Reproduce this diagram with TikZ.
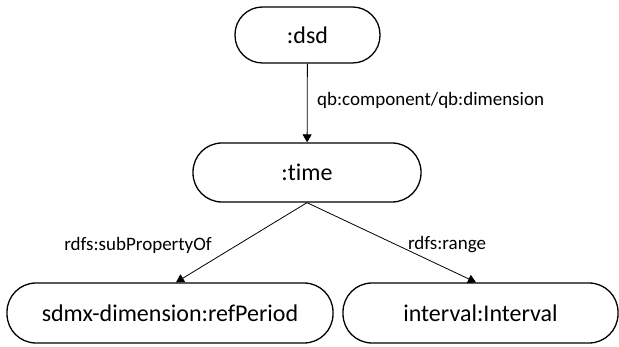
\documentclass[tikz,border=0pt]{standalone}
\usepackage{fontspec}
\setmainfont[Ligatures={NoCommon,NoRare}]{Carlito}
\usetikzlibrary{arrows.meta,calc}
\begin{document}
\begin{tikzpicture}[x=1pt,y=-1pt,
  box/.style={draw=black,line width=1.3pt,rounded corners=29pt,inner sep=0pt,font=\fontsize{24}{28}\selectfont},
  conn/.style={draw=black,line width=0.8pt,-{Triangle[width=9pt,length=8pt]}},
  lbl/.style={font=\fontsize{19}{22}\selectfont,inner sep=0pt}]
\useasboundingbox (0,0) rectangle (619,347);
\node[box,minimum width=145pt,minimum height=56pt,rounded corners=27.5pt] (dsd) at (307.5,35) {:dsd};
\node[box,minimum width=228pt,minimum height=59pt] (time) at (307,172.5) {:time};
\node[box,minimum width=326pt,minimum height=60pt] (ref) at (170,313) {sdmx-dimension:refPeriod};
\node[box,minimum width=275pt,minimum height=60pt] (int) at (480.5,313) {interval:Interval};
\draw[conn] (dsd) -- (time);
\draw[conn] (time.south) -- ($(ref.north)+(6,0)$);
\draw[conn] (time.south) -- ($(int.north)+(-4.5,0)$);
\node[lbl,anchor=west] (l1) at (317,100) {qb:component/qb:dimension};
\node[lbl] (l2) at (138,245) {rdfs:subPropertyOf};
\node[lbl] (l3) at (447,245) {rdfs:range};
\end{tikzpicture}
\end{document}
